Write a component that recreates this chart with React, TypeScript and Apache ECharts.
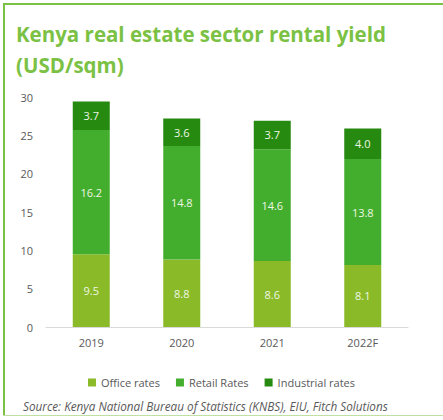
import React, { useEffect, useRef } from "react";
import * as echarts from "echarts";

const categories = ["2019", "2020", "2021", "2022F"];
const officeRates = [9.5, 8.8, 8.6, 8.1];
const retailRates = [16.2, 14.8, 14.6, 13.8];
const industrialRates = [3.7, 3.6, 3.7, 4.0];
const seriesNames = ["Office rates", "Retail Rates", "Industrial rates"];
const titleText = "Kenya real estate sector rental yield\n(USD/sqm)";
const sourceText = "Source: Kenya National Bureau of Statistics (KNBS), EIU, Fitch Solutions";

const FONT = "'Open Sans', 'Noto Sans', sans-serif";

export default function App() {
  const ref = useRef<HTMLDivElement>(null);
  useEffect(() => {
    if (!ref.current) return;
    const chart = echarts.init(ref.current, undefined, { renderer: "svg" });
    const colors = ["#8aba28", "#43ae2e", "#268a10"];
    const label = {
      show: true,
      position: "inside",
      color: "#eef7e4",
      fontSize: 11,
      fontFamily: FONT,
      formatter: (p: any) => Number(p.value).toFixed(1),
    };
    const mk = (name: string, data: number[], i: number) => ({
      name,
      type: "bar",
      stack: "total",
      data,
      barWidth: 37,
      itemStyle: { color: colors[i] },
      label,
      emphasis: { disabled: true },
    });
    chart.setOption({
      animation: false,
      textStyle: { fontFamily: FONT },
      title: {
        text: titleText,
        left: 11,
        top: 13,
        textStyle: {
          color: "#7bc144",
          fontSize: 20.5,
          fontWeight: "bold",
          fontFamily: FONT,
          lineHeight: 31,
        },
      },
      grid: { left: 46, right: 35, top: 97, bottom: 93 },
      legend: {
        data: seriesNames,
        left: "center",
        top: 372,
        itemWidth: 8,
        itemHeight: 8,
        itemGap: 16,
        icon: "rect",
        textStyle: { color: "#595959", fontSize: 11, fontFamily: FONT },
      },
      xAxis: {
        type: "category",
        data: categories,
        axisTick: { show: false },
        axisLine: { lineStyle: { color: "#d9d9d9" } },
        axisLabel: { color: "#595959", fontSize: 11, margin: 10, fontFamily: FONT },
      },
      yAxis: {
        type: "value",
        min: 0,
        max: 30,
        interval: 5,
        splitLine: { show: false },
        axisLine: { show: false },
        axisTick: { show: false },
        axisLabel: { color: "#595959", fontSize: 11, margin: 13, fontFamily: FONT },
      },
      graphic: [
        { type: "rect", shape: { x: 3, y: 3, width: 440, height: 2 }, style: { fill: "#7bc144" } },
        { type: "rect", shape: { x: 3, y: 3, width: 2, height: 413 }, style: { fill: "#7bc144" } },
        { type: "rect", shape: { x: 3, y: 415, width: 440, height: 1 }, style: { fill: "#bfe0a3" } },
        {
          type: "text",
          x: 23,
          y: 406,
          style: {
            text: sourceText,
            fill: "#595959",
            fontSize: 11.75,
            fontStyle: "italic",
            fontFamily: FONT,
            verticalAlign: "middle",
          },
        },
      ],
      series: [
        mk(seriesNames[0], officeRates, 0),
        mk(seriesNames[1], retailRates, 1),
        mk(seriesNames[2], industrialRates, 2),
      ],
    });
    return () => chart.dispose();
  }, []);
  return (
    <div
      ref={ref}
      style={{ position: "fixed", left: 0, top: 0, width: 443, height: 420, background: "#fff" }}
    />
  );
}
